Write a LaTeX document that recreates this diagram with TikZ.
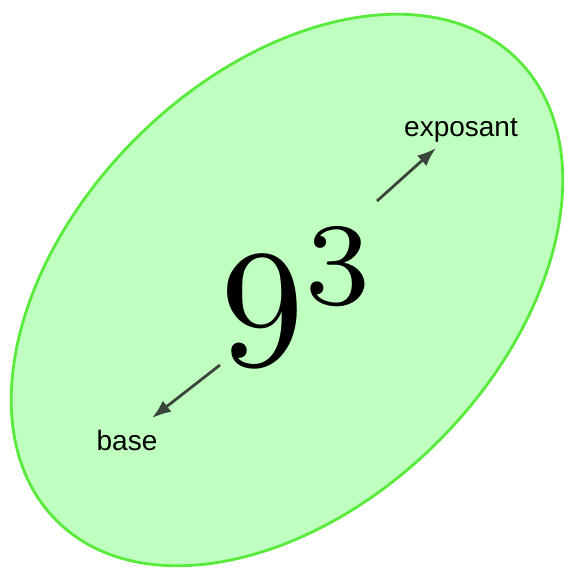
\documentclass[tikz,border=0pt]{standalone}
\usepackage{fontspec}
\setsansfont{Liberation Sans}
\usetikzlibrary{shapes.geometric,arrows.meta,positioning}

\definecolor{fondvert}{RGB}{191,255,191}
\definecolor{bordvert}{RGB}{88,235,60}
\definecolor{fleche}{RGB}{58,70,60}

\begin{document}
\begin{tikzpicture}[
        x=1pt, y=1pt,
        bulle/.style={ellipse, draw=bordvert, fill=fondvert, line width=2.8pt,
                      minimum width=652pt, minimum height=428pt, rotate=45},
        etiquette/.style={font=\sffamily\fontsize{28}{28}\selectfont, inner sep=0pt},
        arrow/.style={-{Latex[length=19pt, width=14pt]}, line width=2.8pt, draw=fleche}
    ]
        \useasboundingbox (0,0) rectangle (563,-568);
        \node[bulle] (bulle) at (287,-290) {};
        \node[inner sep=0pt, anchor=base, scale=16.8] (puissance) at (300,-365) {$9^3$};
        \node[etiquette, anchor=base] (exposant) at (461,-136) {exposant};
        \node[etiquette, anchor=base] (base) at (127,-450) {base};

        \coordinate (departexp) at (377,-201);
        \coordinate (finexp) at (436,-148);
        \coordinate (departbase) at (220,-365);
        \coordinate (finbase) at (152,-418);
        \draw[arrow] (departexp) -- (finexp);
        \draw[arrow] (departbase) -- (finbase);
    \end{tikzpicture}
\end{document}
